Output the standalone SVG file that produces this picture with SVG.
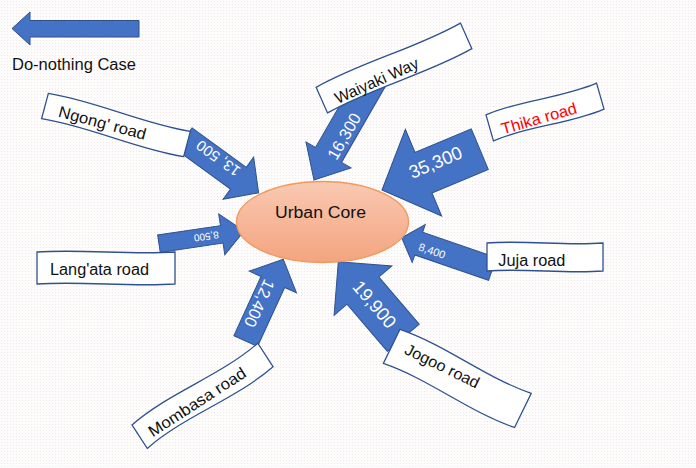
<svg xmlns="http://www.w3.org/2000/svg" width="696" height="468" viewBox="0 0 696 468">
  <defs>
    <pattern id="paper" width="3" height="3" patternUnits="userSpaceOnUse">
      <rect width="3" height="3" fill="#fefdfd"/>
      <rect x="1" y="1" width="1" height="1" fill="#f6e5e2"/>
    </pattern>
    <linearGradient id="coreFill" x1="0" y1="0" x2="0" y2="1">
      <stop offset="0" stop-color="#f9c9b2"/>
      <stop offset="1" stop-color="#f4a47f"/>
    </linearGradient>
  </defs>
  <style>
    .arrow { fill: #4472c4; stroke: #2f528f; stroke-width: 1; stroke-linejoin: miter; }
    .flow { fill: #ffffff; font-family: "Liberation Sans", Arial, sans-serif; text-anchor: middle; }
    .sign { fill: #ffffff; stroke: #2f528f; stroke-width: 1.3; }
    .label { fill: #111111; font-family: "Liberation Sans", Arial, sans-serif; font-size: 16px; }
  </style>

  <!-- paper -->
  <rect width="696" height="468" fill="url(#paper)"/>

  <!-- legend -->
  <g id="legend">
    <polygon class="arrow" points="12,28.5 30,12 30,20.5 139,20.5 139,37 30,37 30,45"/>
    <text class="label" x="12" y="70" textLength="124" lengthAdjust="spacingAndGlyphs">Do-nothing Case</text>
  </g>

  <!-- traffic flows: each arrow drawn pointing along +x with its tip at the origin -->
  <g id="connectors">
    <g id="flow-waiyaki" transform="translate(314,180) rotate(120)">
      <polygon class="arrow" points="0,0 -29,-26 -29,-15 -120,-15 -120,15 -29,15 -29,26"/>
      <text class="flow" font-size="16.5" transform="translate(-53,-4) rotate(180)" y="5.9">16,300</text>
    </g>
    <g id="flow-thika" transform="translate(382,190) rotate(157.3)">
      <polygon class="arrow" points="0,0 -45,-47 -45,-22 -106,-22 -106,22 -45,22 -45,47"/>
      <text class="flow" font-size="18.3" transform="translate(-60,5) rotate(180)" y="6.5">35,300</text>
    </g>
    <g id="flow-ngong" transform="translate(258.6,192.9) rotate(36)">
      <polygon class="arrow" points="0,0 -25,-26 -25,-13.5 -92,-13.5 -92,13.5 -25,13.5 -25,26"/>
      <text class="flow" font-size="15" transform="translate(-53,-4) rotate(180)" y="5.4">13, 500</text>
    </g>
    <g id="flow-langata" transform="translate(244,231) rotate(-8.5)">
      <polygon class="arrow" points="0,0 -22.5,-20.6 -22.5,-8.8 -86,-8.8 -86,8.8 -22.5,8.8 -22.5,20.6"/>
      <text class="flow" font-size="10" transform="translate(-38,0) rotate(180)" y="3.6">8,500</text>
    </g>
    <g id="flow-juja" transform="translate(401.7,237.7) rotate(199)">
      <polygon class="arrow" points="0,0 -18,-20 -18,-12 -96,-12 -96,12 -18,12 -18,20"/>
      <text class="flow" font-size="11" transform="translate(-33,-2.5) rotate(180)" y="3.9">8,400</text>
    </g>
    <g id="flow-jogoo" transform="translate(338.3,261.7) rotate(229.5)">
      <polygon class="arrow" points="0,0 -38,-38 -38,-21 -100,-21 -100,21 -38,21 -38,38"/>
      <text class="flow" font-size="18.3" transform="translate(-56,0) rotate(180)" y="6.5">19,900</text>
    </g>
    <g id="flow-mombasa" transform="translate(283.3,259.3) rotate(-65.3)">
      <polygon class="arrow" points="0,0 -25,-26 -25,-13 -90,-13 -90,13 -25,13 -25,26"/>
      <text class="flow" font-size="16.5" transform="translate(-50,-3) rotate(180)" y="5.9">12,400</text>
    </g>
  </g>

  <!-- destination -->
  <g id="urban-core">
    <ellipse cx="322.5" cy="222" rx="86" ry="40.5" fill="url(#coreFill)" stroke="#f0995a" stroke-width="1.3"/>
    <text class="label" x="320.5" y="218" font-size="17.6" text-anchor="middle" textLength="91" lengthAdjust="spacingAndGlyphs">Urban Core</text>
  </g>

  <!-- road name signs (wave banners) -->
  <g id="road-waiyaki" transform="translate(394,68) rotate(-24)">
    <path class="sign" d="M-79,-14 C-26.3,-19 26.3,-9 79,-14 L79,14 C26.3,19 -26.3,9 -79,14 Z"/>
    <text class="label" x="-66" y="10" textLength="90" lengthAdjust="spacingAndGlyphs">Waiyaki Way</text>
  </g>
  <g id="road-thika" transform="translate(545,112) rotate(-16)">
    <path class="sign" d="M-57.5,-13.5 C-19.2,-18.5 19.2,-8.5 57.5,-13.5 L57.5,13.5 C19.2,18.5 -19.2,8.5 -57.5,13.5 Z"/>
    <text class="label" x="-7.6" y="10" text-anchor="middle" fill="#ff0000" style="fill:#ff0000" textLength="78" lengthAdjust="spacingAndGlyphs">Thika road</text>
  </g>
  <g id="road-ngong" transform="translate(116,125) rotate(15)">
    <path class="sign" d="M-73.5,-13 C-24.5,-18 24.5,-8 73.5,-13 L73.5,13 C24.5,18 -24.5,8 -73.5,13 Z"/>
    <text class="label" x="-13.6" y="7" text-anchor="middle" textLength="90" lengthAdjust="spacingAndGlyphs">Ngong' road</text>
  </g>
  <g id="road-langata" transform="translate(106,268)">
    <path class="sign" d="M-69,-16 C-23,-19 23,-13 69,-16 L69,16 C23,19 -23,13 -69,16 Z"/>
    <text class="label" x="-56" y="7" textLength="99" lengthAdjust="spacingAndGlyphs">Lang'ata road</text>
  </g>
  <g id="road-juja" transform="translate(545,257)">
    <path class="sign" d="M-58,-14 C-19.3,-17 19.3,-11 58,-14 L58,14 C19.3,17 -19.3,11 -58,14 Z"/>
    <text class="label" x="-46.7" y="9" textLength="67" lengthAdjust="spacingAndGlyphs">Juja road</text>
  </g>
  <g id="road-jogoo" transform="translate(457.3,378.4) rotate(26)">
    <path class="sign" d="M-73,-19 C-24.3,-25 24.3,-13 73,-19 L73,19 C24.3,25 -24.3,13 -73,19 Z"/>
    <text class="label" x="-19" y="1" text-anchor="middle" textLength="81" lengthAdjust="spacingAndGlyphs">Jogoo road</text>
  </g>
  <g id="road-mombasa" transform="translate(202.5,395.8) rotate(-33)">
    <path class="sign" d="M-75,-14 C-25,-21 25,-7 75,-14 L75,14 C25,21 -25,7 -75,14 Z"/>
    <text class="label" x="-8" y="7.8" text-anchor="middle" textLength="113" lengthAdjust="spacingAndGlyphs">Mombasa road</text>
  </g>
</svg>
